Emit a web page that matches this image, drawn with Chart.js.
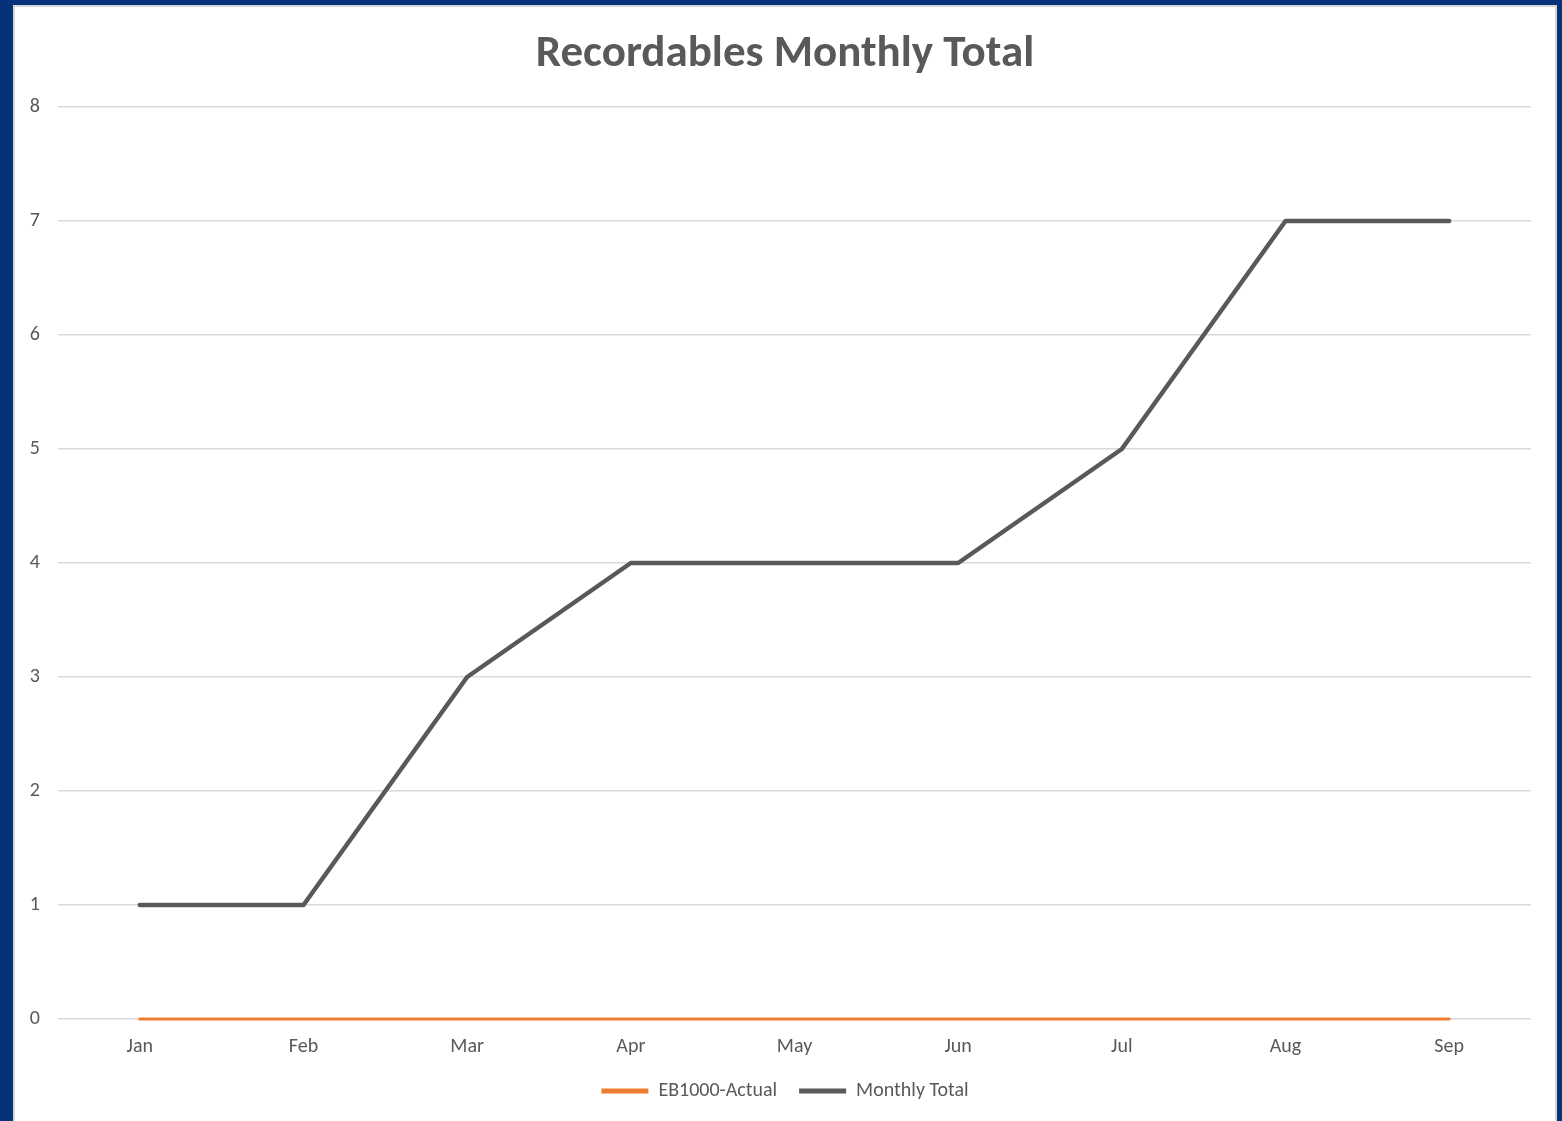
<!DOCTYPE html>
<html>
<head>
<meta charset="utf-8">
<script src="https://cdn.jsdelivr.net/npm/chart.js@4"></script>
<style>
  html, body { margin: 0; padding: 0; }
  body { width: 1562px; height: 1121px; background: #06327a; overflow: hidden; position: relative; }
  .panel { position: absolute; left: 13px; top: 5px; width: 1540px; height: 1130px; background: #fff; border: 2px solid #d6d6d6; }
  .chartWrapper { position: absolute; left: 0; top: 0; width: 1540px; height: 1114px; }
</style>
</head>
<body>
<div class="panel">
  <div class="chartWrapper"><canvas id="myChart" width="1540" height="1114"></canvas></div>
</div>
<script>
const months = ['Jan', 'Feb', 'Mar', 'Apr', 'May', 'Jun', 'Jul', 'Aug', 'Sep'];
const eb1000Actual = [0, 0, 0, 0, 0, 0, 0, 0, 0];
const monthlyTotal = [1, 1, 3, 4, 4, 4, 5, 7, 7];
const seriesNames = ['EB1000-Actual', 'Monthly Total'];
const seriesColors = ['#ed7d31', '#595959'];
const yTicks = [0, 1, 2, 3, 4, 5, 6, 7, 8];

const fontName = 'Carlito, Lato, "Open Sans", sans-serif';
const textColor = '#595959';

class RecordablesChart {

  datasetsArr = [];

  constructor() {
    this.buildDatasets();
    this.chartIt();
  }

  buildDatasets() {
    [eb1000Actual, monthlyTotal].forEach((values, index) => {
      this.datasetsArr.push({
        label: seriesNames[index],
        data: [...values],
        borderColor: seriesColors[index],
        backgroundColor: seriesColors[index],
        borderWidth: index === 0 ? 3 : 4.5,
        borderCapStyle: 'round',
        borderJoinStyle: 'round',
        pointRadius: 0,
        tension: 0,
        clip: false
      });
    });
  }

  chartIt() {
    const ctx = document.getElementById('myChart').getContext('2d');

    new Chart(ctx, {
      type: 'line',
      data: {
        labels: months,
        datasets: this.datasetsArr
      },
      options: {
        responsive: false,
        animation: false,
        layout: { padding: { left: 0, right: 0, top: 0, bottom: 10 } },
        plugins: {
          title: {
            display: true,
            text: 'Recordables Monthly Total',
            color: textColor,
            font: { family: fontName, size: 45, weight: 'bold', lineHeight: 1.2 },
            padding: { top: 21, bottom: 25 }
          },
          legend: {
            position: 'bottom',
            labels: {
              color: textColor,
              font: { family: fontName, size: 20 },
              boxWidth: 47,
              boxHeight: 5,
              padding: 22,
              useBorderRadius: true,
              borderRadius: 2.5,
              generateLabels: (chart) => chart.data.datasets.map((ds, i) => ({
                text: ds.label,
                fillStyle: ds.borderColor,
                strokeStyle: ds.borderColor,
                fontColor: textColor,
                lineWidth: 0,
                datasetIndex: i,
                hidden: false
              }))
            }
          },
          tooltip: { enabled: false }
        },
        scales: {
          x: {
            offset: true,
            afterFit: (scale) => { scale.height = 40; },
            grid: { display: false, drawTicks: false },
            border: { display: false },
            ticks: { color: textColor, font: { family: fontName, size: 20 }, padding: 16, maxRotation: 0 }
          },
          y: {
            min: 0,
            max: 8,
            afterFit: (scale) => { scale.width = 43; },
            afterBuildTicks: (scale) => { scale.ticks = yTicks.map((v) => ({ value: v })); },
            grid: { color: '#d9d9d9', lineWidth: 1.5, drawTicks: false },
            border: { display: false },
            ticks: { color: textColor, font: { family: fontName, size: 20 }, padding: 18 }
          },
          // empty right gutter so the title and legend stay centred on the panel
          yRight: {
            position: 'right',
            afterFit: (scale) => { scale.width = 24; },
            grid: { display: false, drawTicks: false },
            border: { display: false },
            ticks: { display: false }
          }
        }
      }
    });
  }
}

new RecordablesChart();
</script>
</body>
</html>
